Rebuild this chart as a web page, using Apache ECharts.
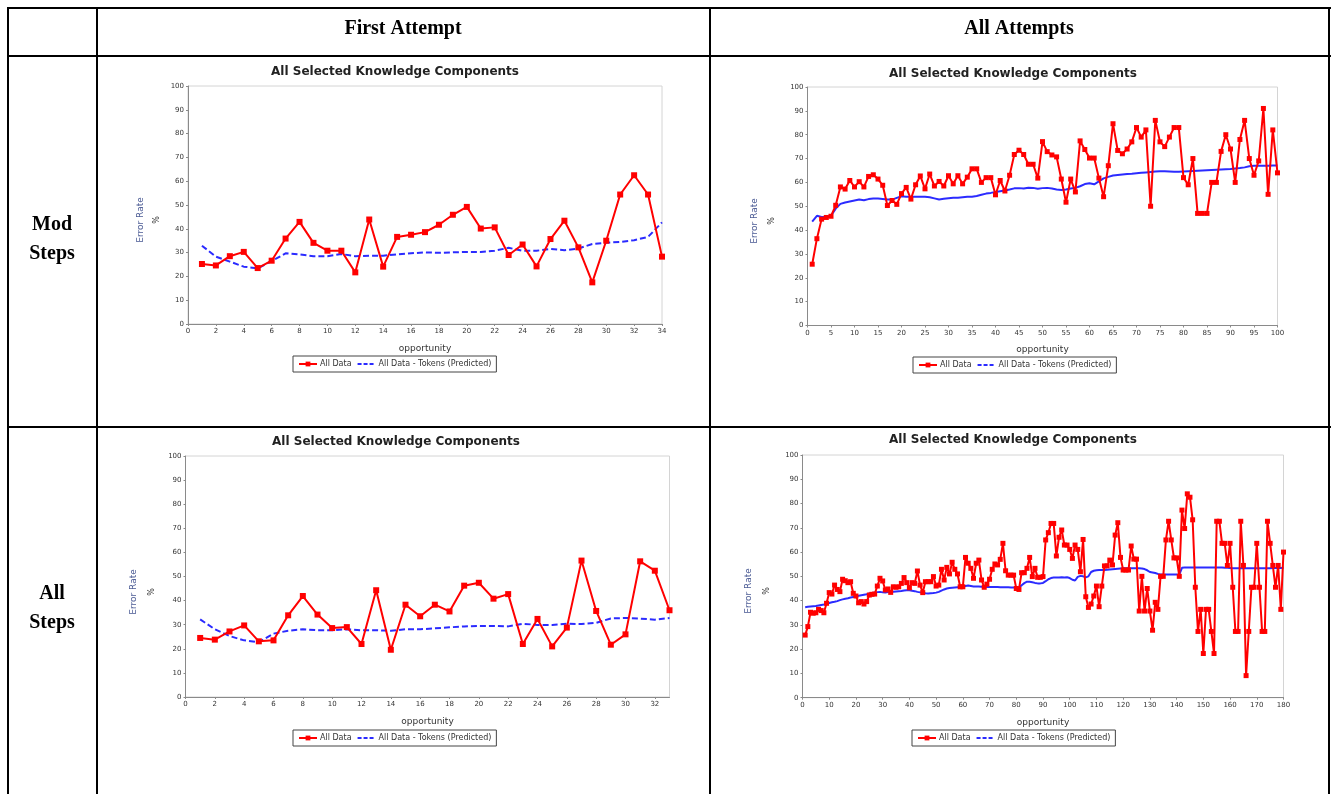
<!DOCTYPE html>
<html><head><meta charset="utf-8">
<script src="https://cdn.jsdelivr.net/npm/echarts@6/dist/echarts.min.js"></script>
<style>html,body{margin:0;padding:0;background:#fff}#c{width:1331px;height:794px}</style>
</head><body><div id="c"></div>
<script>
// ---------- data ----------
const colHeaders = ['First Attempt', 'All Attempts'];
const rowHeaders = ['Mod\nSteps', 'All\nSteps'];
const chartTitle = 'All Selected Knowledge Components';
const xName = 'opportunity';
const yName = 'Error Rate';
const yUnit = '%';
const legendNames = ['All Data', 'All Data - Tokens (Predicted)'];

const modFirstActual = [25.2, 24.6, 28.5, 30.3, 23.5, 26.6, 35.9, 42.9, 34.1, 30.8, 30.8, 21.7, 43.9, 24.1, 36.6, 37.5, 38.6, 41.7, 45.9, 49.2, 40.1, 40.6, 29.0, 33.4, 24.2, 35.7, 43.4, 32.2, 17.5, 35.0, 54.4, 62.5, 54.4, 28.3];
const modFirstPred = [32.9, 28.3, 26.2, 24.1, 23.4, 26.4, 29.7, 29.2, 28.5, 28.5, 29.4, 28.5, 28.7, 28.7, 29.2, 29.7, 30.1, 29.9, 30.1, 30.3, 30.3, 30.8, 32.0, 30.8, 30.8, 31.5, 31.0, 31.7, 33.6, 34.1, 34.5, 35.2, 36.6, 42.7];

const modAllActual = [
  25.7, 36.4, 44.6, 45.3, 45.8, 50.4, 58.1, 57.2, 60.8, 58.1,
  60.3, 58.1, 62.5, 63.2, 61.4, 58.8, 50.3, 52.4, 50.8, 55.3,
  57.9, 53.0, 59.0, 62.7, 57.3, 63.5, 58.5, 60.4, 58.5, 62.8,
  59.4, 62.8, 59.4, 62.2, 65.7, 65.7, 60.0, 62.0, 62.0, 54.8,
  60.8, 56.4, 63.0, 71.7, 73.5, 71.7, 67.6, 67.6, 61.8, 77.1,
  72.9, 71.5, 70.7, 61.4, 51.7, 61.4, 56.0, 77.4, 73.8, 70.2,
  70.2, 61.8, 54.0, 67.0, 84.6, 73.4, 72.0, 74.0, 77.0, 83.0,
  79.0, 82.0, 50.0, 86.0, 77.0, 75.0, 79.0, 83.0, 83.0, 62.0,
  59.0, 70.0, 47.0, 47.0, 47.0, 60.0, 60.0, 73.0, 80.0, 74.0,
  60.0, 78.0, 86.0, 70.0, 63.0, 69.0, 91.0, 55.0, 82.0, 64.0];
const modAllPred = [
  43.6, 46.0, 45.5, 45.5, 46.0, 49.0, 51.0, 51.6, 52.0, 52.4,
  52.8, 52.5, 53.0, 53.2, 53.2, 53.0, 52.8, 52.8, 53.5, 54.2,
  54.0, 54.0, 54.0, 54.0, 54.0, 53.8, 53.3, 52.8, 53.1, 53.4,
  53.6, 53.6, 53.8, 54.0, 54.0, 54.3, 54.8, 55.3, 55.6, 56.0,
  56.3, 56.6, 57.0, 57.5, 57.6, 57.4, 57.8, 57.7, 57.3, 57.6,
  57.7, 57.4, 57.0, 56.8, 57.0, 57.4, 57.7, 58.4, 59.3, 59.6,
  59.2, 60.4, 61.7, 62.3, 62.9, 63.1, 63.3, 63.5, 63.6, 63.8,
  64.0, 64.2, 64.4, 64.6, 64.7, 64.7, 64.6, 64.5, 64.5, 64.6,
  64.7, 64.8, 64.9, 65.0, 65.1, 65.2, 65.3, 65.4, 65.5, 65.6,
  65.8, 66.0, 66.3, 66.8, 67.0, 67.0, 67.0, 67.0, 67.1, 67.1];

const allFirstActual = [24.5, 23.8, 27.2, 29.7, 23.1, 23.5, 33.9, 41.9, 34.2, 28.6, 29.0, 22.0, 44.3, 19.6, 38.3, 33.5, 38.3, 35.5, 46.2, 47.4, 40.8, 42.7, 22.0, 32.4, 21.0, 28.8, 56.6, 35.7, 21.7, 26.0, 56.3, 52.4, 36.0];
const allFirstPred = [32.2, 28.1, 25.3, 23.5, 22.7, 26.3, 27.5, 28.1, 27.7, 27.7, 28.1, 27.7, 27.7, 27.5, 28.1, 28.1, 28.5, 28.9, 29.3, 29.5, 29.5, 29.3, 30.4, 29.9, 29.9, 30.4, 30.3, 30.8, 32.6, 32.8, 32.5, 32.1, 32.8];

const allAllActual = [
  25.8, 29.3, 35.2, 34.8, 35.0, 36.4, 35.9, 35.0, 38.9, 43.3,
  42.7, 46.4, 44.6, 43.7, 48.8, 48.2, 47.4, 47.8, 43.0, 41.9,
  39.1, 39.6, 38.6, 39.6, 42.3, 42.6, 42.7, 46.0, 49.2, 48.1,
  44.4, 44.8, 43.4, 45.7, 45.5, 45.7, 47.1, 49.5, 47.4, 45.3,
  47.4, 47.1, 52.2, 46.4, 43.3, 47.8, 47.8, 47.8, 49.9, 46.0,
  46.4, 52.9, 48.5, 53.7, 51.0, 55.8, 52.9, 51.0, 45.7, 45.7,
  57.8, 55.4, 53.3, 49.2, 55.4, 56.7, 48.5, 45.5, 46.8, 48.8,
  52.9, 55.1, 54.7, 57.0, 63.6, 52.3, 50.5, 50.5, 50.5, 45.0,
  44.6, 51.5, 51.5, 53.3, 57.8, 49.9, 53.3, 49.6, 49.6, 49.9,
  65.0, 68.0, 71.8, 71.8, 58.4, 66.1, 69.1, 62.9, 62.9, 61.1,
  57.4, 62.9, 61.1, 51.9, 65.2, 41.6, 37.2, 38.6, 41.9, 46.0,
  37.5, 46.0, 54.3, 54.3, 56.7, 54.7, 67.0, 72.1, 57.8, 52.6,
  52.6, 52.6, 62.5, 57.1, 57.1, 35.7, 50.0, 35.7, 45.0, 35.7,
  27.8, 39.3, 36.4, 50.0, 50.0, 65.0, 72.7, 65.0, 57.6, 57.6,
  50.0, 77.3, 69.7, 84.0, 82.6, 73.3, 45.5, 27.3, 36.4, 18.2,
  36.4, 36.4, 27.3, 18.2, 72.7, 72.7, 63.6, 63.6, 54.5, 63.6,
  45.5, 27.3, 27.3, 72.7, 54.5, 9.1, 27.3, 45.5, 45.5, 63.6,
  45.5, 27.3, 27.3, 72.7, 63.6, 54.5, 45.5, 54.5, 36.4, 60.0];
const allAllPred = [
  37.3, 37.5, 37.6, 37.7, 37.8, 38.0, 38.2, 38.4, 38.7, 39.0,
  39.3, 39.5, 39.8, 40.2, 40.5, 40.8, 41.0, 41.3, 41.5, 41.7,
  42.0, 42.2, 42.4, 42.6, 42.9, 43.1, 43.3, 43.5, 43.6, 43.4,
  43.3, 43.5, 43.6, 43.7, 43.8, 43.9, 44.0, 44.2, 44.3, 44.3,
  44.1, 43.9, 43.6, 43.4, 43.2, 43.0, 42.9, 43.0, 43.1, 43.3,
  43.6, 44.1, 44.6, 45.0, 45.2, 45.3, 45.4, 45.5, 45.6, 45.7,
  46.0, 46.2, 46.0, 45.8, 45.8, 45.8, 45.7, 45.7, 45.6, 45.6,
  45.6, 45.6, 45.6, 45.5, 45.5, 45.5, 45.5, 45.4, 45.4, 45.4,
  45.5, 46.3, 47.2, 47.8, 47.8, 47.6, 47.3, 47.1, 47.1, 47.3,
  48.0, 48.8, 49.3, 49.5, 49.5, 49.5, 49.6, 49.5, 49.6, 49.3,
  48.6, 48.3, 49.8, 50.2, 50.0, 49.6, 50.0, 51.8, 52.3, 52.5,
  52.6, 52.6, 52.6, 52.7, 52.8, 52.9, 53.0, 53.1, 53.2, 53.3,
  53.3, 53.3, 53.3, 53.3, 53.3, 53.3, 53.2, 53.0, 52.5, 51.8,
  51.6, 51.4, 51.0, 50.8, 50.8, 50.8, 50.8, 50.8, 50.8, 50.8,
  50.7, 53.5, 53.6, 53.6, 53.6, 53.6, 53.6, 53.6, 53.6, 53.6,
  53.6, 53.6, 53.6, 53.6, 53.6, 53.6, 53.6, 53.5, 53.5, 53.4,
  53.3, 53.3, 53.3, 53.3, 53.3, 53.3, 53.3, 53.3, 53.3, 53.3,
  53.3, 53.3, 53.3, 53.3, 53.3, 53.4, 53.4, 53.4, 53.4, 53.5];

const xMaxes = [34, 100, 33, 180];
const xSteps = [2, 5, 2, 10];

// ---------- layout ----------
const panels = [
  {actual: modFirstActual, pred: modFirstPred, xi: 0, dashed: true, sym: 6, hideMax: false,
   grid: {left: 188, top: 86, width: 474, height: 238}, titleX: 395, titleY: 66,
   yLabX: 141, yPctX: 157, yLabY: 220, legendX: 293, legendY: 356},
  {actual: modAllActual, pred: modAllPred, xi: 1, dashed: false, sym: 5, hideMax: false,
   grid: {left: 807.5, top: 87, width: 470, height: 238.5}, titleX: 1013, titleY: 68,
   yLabX: 755, yPctX: 772, yLabY: 221, legendX: 913, legendY: 357},
  {actual: allFirstActual, pred: allFirstPred, xi: 2, dashed: true, sym: 6, hideMax: true,
   grid: {left: 185.5, top: 456, width: 484, height: 241}, titleX: 396, titleY: 436,
   yLabX: 134, yPctX: 152, yLabY: 592, legendX: 293, legendY: 730},
  {actual: allAllActual, pred: allAllPred, xi: 3, dashed: false, sym: 5, hideMax: false,
   grid: {left: 802.5, top: 455, width: 481, height: 242.7}, titleX: 1013, titleY: 434,
   yLabX: 749, yPctX: 767, yLabY: 591, legendX: 912, legendY: 730}
];

const chart = echarts.init(document.getElementById('c'), null, {renderer: 'canvas', width: 1331, height: 794});
const option = {animation: false, backgroundColor: '#fff', title: [], legend: [], grid: [], xAxis: [], yAxis: [], series: [], graphic: []};
const axisColor = '#8a8a8a';
const labelStyle = {fontSize: 7, color: '#333', fontFamily: 'DejaVu Sans'};

panels.forEach((p, i) => {
  option.grid.push(Object.assign({show: true, borderColor: '#d4d4d4', borderWidth: 1, backgroundColor: '#fff'}, p.grid));
  option.xAxis.push({
    type: 'value', gridIndex: i, min: 0, max: xMaxes[p.xi], interval: xSteps[p.xi],
    name: xName, nameLocation: 'middle', nameGap: 20,
    nameTextStyle: {fontSize: 9, color: '#333', fontFamily: 'DejaVu Sans'},
    axisLine: {show: true, lineStyle: {color: axisColor, width: 1}},
    axisTick: {show: true, length: 2, lineStyle: {color: axisColor}},
    axisLabel: Object.assign({margin: 4, showMaxLabel: !p.hideMax}, labelStyle),
    splitLine: {show: false}
  });
  option.yAxis.push({
    type: 'value', gridIndex: i, min: 0, max: 100, interval: 10,
    axisLine: {show: true, lineStyle: {color: axisColor, width: 1}},
    axisTick: {show: true, length: 2, lineStyle: {color: axisColor}},
    axisLabel: Object.assign({margin: 4}, labelStyle),
    splitLine: {show: false}
  });
  option.series.push({
    name: legendNames[1], type: 'line', xAxisIndex: i, yAxisIndex: i,
    data: p.pred.map((v, k) => [k + 1, v]), symbol: 'none',
    lineStyle: {color: '#2b2bff', width: 2, type: p.dashed ? [6, 3] : 'solid'},
    itemStyle: {color: '#2b2bff'}, z: 2
  });
  option.series.push({
    name: legendNames[0], type: 'line', xAxisIndex: i, yAxisIndex: i,
    data: p.actual.map((v, k) => [k + 1, v]), symbol: 'rect', symbolSize: p.sym,
    lineStyle: {color: '#ff0000', width: 2}, itemStyle: {color: '#ff0000'}, z: 3
  });
  option.title.push({
    text: chartTitle, left: p.titleX, top: p.titleY, textAlign: 'center', padding: 0,
    textStyle: {fontSize: 12, fontWeight: 'bold', color: '#222', fontFamily: 'DejaVu Sans'}
  });
  option.legend.push({
    data: [{name: legendNames[0]},
           {name: legendNames[1], lineStyle: {type: [4, 2]}, itemStyle: {opacity: 0, color: 'rgba(0,0,0,0)', borderWidth: 0}}],
    left: p.legendX, top: p.legendY, orient: 'horizontal', padding: [4, 5], itemGap: 5,
    itemWidth: 18, itemHeight: 6, borderColor: '#444', borderWidth: 1, borderRadius: 0,
    selectedMode: false, textStyle: {fontSize: 8, color: '#333', fontFamily: 'DejaVu Sans', padding: [0, 0, 0, -2]}
  });
  option.graphic.push({type: 'text', x: p.yLabX, y: p.yLabY, rotation: Math.PI / 2, z: 10,
    style: {text: yName, fill: '#4a5a94', font: '9px "DejaVu Sans"', align: 'center', verticalAlign: 'middle'}});
  option.graphic.push({type: 'text', x: p.yPctX, y: p.yLabY, rotation: Math.PI / 2, z: 10,
    style: {text: yUnit, fill: '#333', font: '8px "DejaVu Sans"', align: 'center', verticalAlign: 'middle'}});
});

// table frame
const hLines = [8, 56, 427];
const vLines = [8, 97, 710, 1329];
hLines.forEach(y => option.graphic.push({type: 'line', z: 20, shape: {x1: 7, y1: y, x2: 1331, y2: y}, style: {stroke: '#000', lineWidth: 2}}));
vLines.forEach(x => option.graphic.push({type: 'line', z: 20, shape: {x1: x, y1: 7, x2: x, y2: 794}, style: {stroke: '#000', lineWidth: 2}}));
const headerFont = 'bold 20px "Liberation Serif"';
[[403, 29], [1019, 29]].forEach((pos, i) => option.graphic.push({type: 'text', x: pos[0], y: pos[1], z: 20,
  style: {text: colHeaders[i], font: headerFont, fill: '#000', align: 'center', verticalAlign: 'middle'}}));
[[52, 239], [52, 608]].forEach((pos, i) => option.graphic.push({type: 'text', x: pos[0], y: pos[1], z: 20,
  style: {text: rowHeaders[i], font: headerFont, fill: '#000', align: 'center', verticalAlign: 'middle', lineHeight: 29}}));

chart.setOption(option);
</script></body></html>
